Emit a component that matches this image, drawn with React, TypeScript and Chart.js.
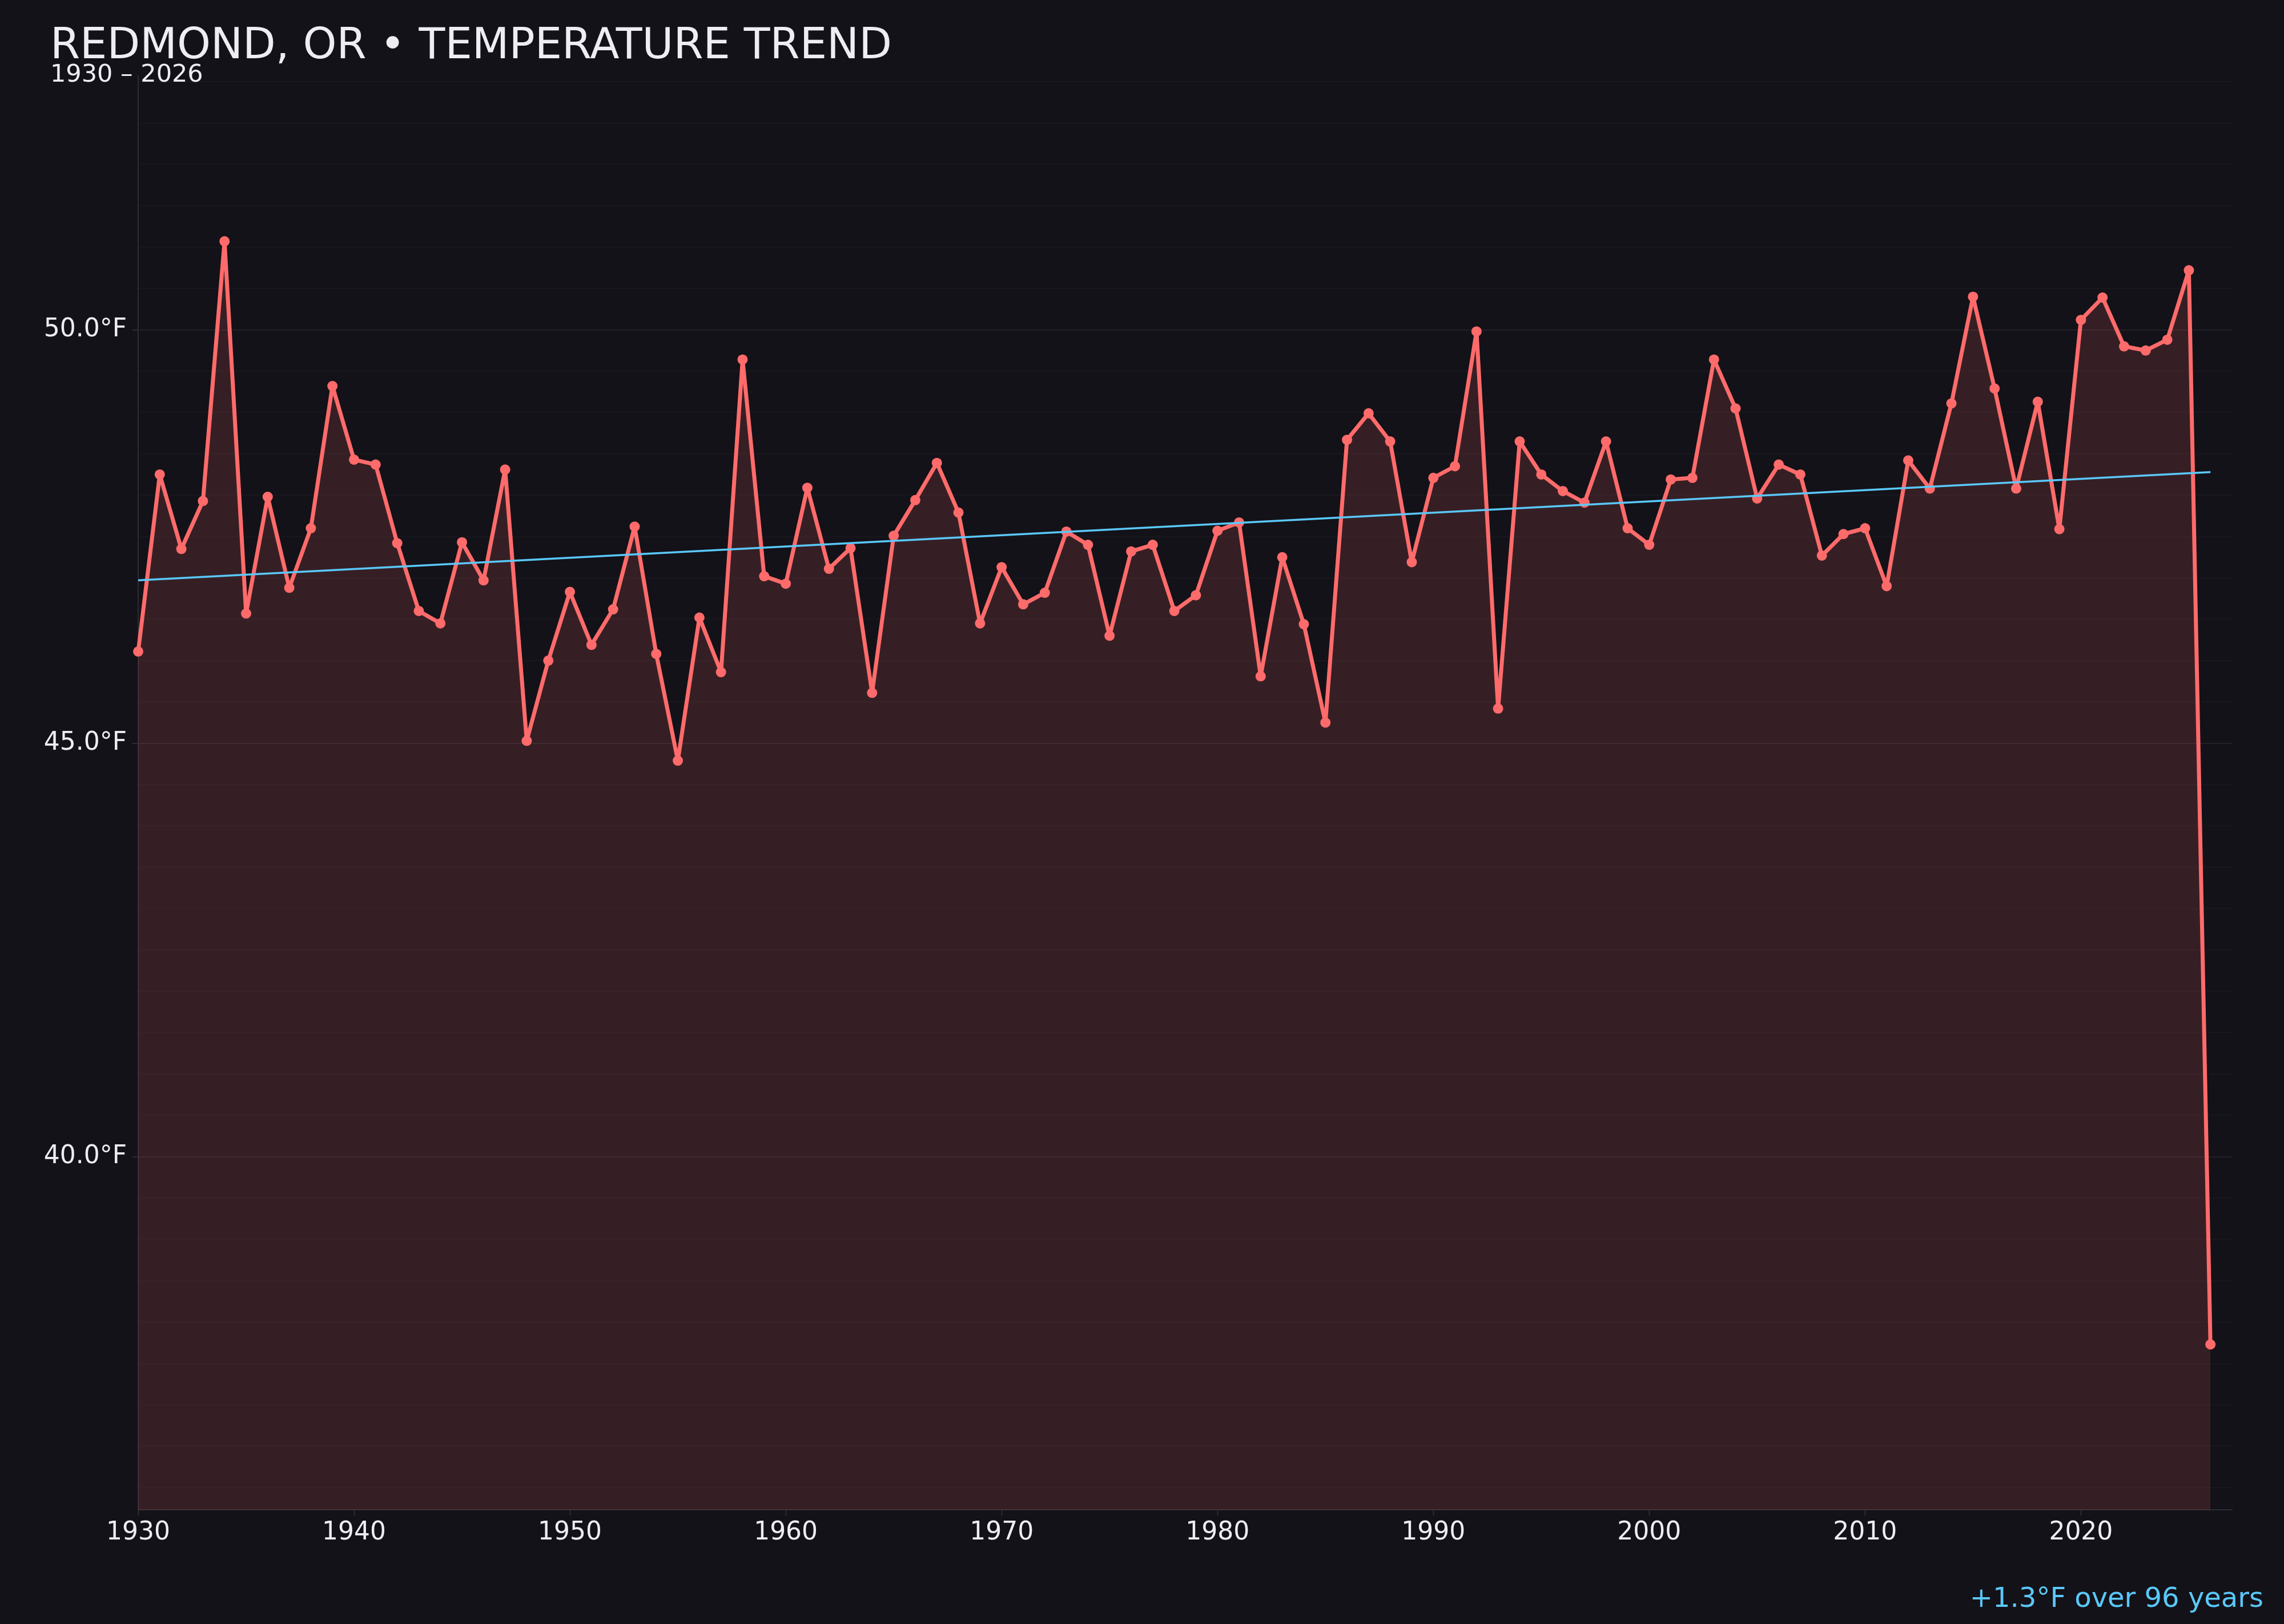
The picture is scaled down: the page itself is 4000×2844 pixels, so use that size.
import { useEffect, useRef } from 'react';
import Chart from 'chart.js/auto';

// Annual mean temperature, Redmond OR (°F)
const years = [
  1930, 1931, 1932, 1933, 1934, 1935, 1936, 1937, 1938, 1939,
  1940, 1941, 1942, 1943, 1944, 1945, 1946, 1947, 1948, 1949,
  1950, 1951, 1952, 1953, 1954, 1955, 1956, 1957, 1958, 1959,
  1960, 1961, 1962, 1963, 1964, 1965, 1966, 1967, 1968, 1969,
  1970, 1971, 1972, 1973, 1974, 1975, 1976, 1977, 1978, 1979,
  1980, 1981, 1982, 1983, 1984, 1985, 1986, 1987, 1988, 1989,
  1990, 1991, 1992, 1993, 1994, 1995, 1996, 1997, 1998, 1999,
  2000, 2001, 2002, 2003, 2004, 2005, 2006, 2007, 2008, 2009,
  2010, 2011, 2012, 2013, 2014, 2015, 2016, 2017, 2018, 2019,
  2020, 2021, 2022, 2023, 2024, 2025, 2026
];

const temps = [
  46.11, 48.25, 47.35, 47.93, 51.07, 46.57, 47.98, 46.88, 47.60, 49.32,
  48.43, 48.37, 47.42, 46.60, 46.45, 47.43, 46.97, 48.31, 45.03, 46.00,
  46.83, 46.19, 46.62, 47.62, 46.08, 44.79, 46.52, 45.86, 49.64, 47.02,
  46.93, 48.09, 47.11, 47.36, 45.61, 47.51, 47.94, 48.39, 47.79, 46.45,
  47.13, 46.68, 46.82, 47.56, 47.40, 46.30, 47.32, 47.40, 46.60, 46.79,
  47.57, 47.67, 45.81, 47.25, 46.44, 45.25, 48.67, 48.99, 48.65, 47.19,
  48.21, 48.35, 49.98, 45.42, 48.65, 48.25, 48.05, 47.91, 48.65, 47.60,
  47.40, 48.19, 48.21, 49.64, 49.05, 47.96, 48.37, 48.25, 47.27, 47.53,
  47.60, 46.90, 48.42, 48.08, 49.11, 50.40, 49.29, 48.08, 49.13, 47.59,
  50.12, 50.39, 49.80, 49.75, 49.88, 50.72, 37.73
];

// linear trend end points
const trendYears = [1930, 2026];
const trendTemps = [46.97, 48.28];

const xTickYears = [1930, 1940, 1950, 1960, 1970, 1980, 1990, 2000, 2010, 2020];
const yLabelTemps = [40, 45, 50];

const TITLE = 'REDMOND, OR • TEMPERATURE TREND';
const SUBTITLE = '1930 – 2026';
const TREND_NOTE = '+1.3°F over 96 years';

const BG = '#131218';
const TEXT = '#eeedf2';
const LINE = '#ff6b6b';
const FILL = 'rgba(255, 107, 107, 0.15)';
const TREND = '#5ac8fa';
const AXIS = '#2d2c35';
const GRID_MAJOR = 'rgba(255, 255, 255, 0.065)';
const GRID_MINOR = 'rgba(255, 255, 255, 0.022)';
const FONT = '"DejaVu Sans", sans-serif';

const backgroundPlugin = {
  id: 'bgFill',
  beforeDraw(chart: any) {
    const { ctx, width, height } = chart;
    ctx.save();
    ctx.fillStyle = BG;
    ctx.fillRect(0, 0, width, height);
    ctx.restore();
  }
};

const textPlugin = {
  id: 'headerText',
  afterDraw(chart: any) {
    const { ctx } = chart;
    ctx.save();
    ctx.textBaseline = 'alphabetic';
    ctx.textAlign = 'left';
    ctx.fillStyle = TEXT;
    ctx.font = `75px ${FONT}`;
    ctx.fillText(TITLE, 88, 102);
    ctx.font = `43px ${FONT}`;
    ctx.fillText(SUBTITLE, 88, 143);
    ctx.textAlign = 'right';
    ctx.fillStyle = TREND;
    ctx.font = `48px ${FONT}`;
    ctx.fillText(TREND_NOTE, 3964, 2814);
    ctx.restore();
  }
};

export default function App() {
  const chartRef = useRef<HTMLCanvasElement>(null);
  const chartInstance = useRef<Chart | null>(null);

  useEffect(() => {
    document.body.style.margin = '0';
    document.body.style.background = BG;
    if (!chartRef.current) return;

    if (chartInstance.current) {
      chartInstance.current.destroy();
    }

    const ctx = chartRef.current.getContext('2d');
    if (!ctx) return;

    const yMin = Math.min(...temps) - 2;
    const yMax = Math.max(...temps) + 2;

    chartInstance.current = new Chart(ctx, {
      type: 'line',
      data: {
        datasets: [
          {
            label: 'Trend',
            data: trendYears.map((yr, i) => ({ x: yr, y: trendTemps[i] })),
            borderColor: TREND,
            borderWidth: 3.5,
            pointRadius: 0,
            fill: false,
            order: 0
          },
          {
            label: 'Annual mean',
            data: years.map((yr, i) => ({ x: yr, y: temps[i] })),
            borderColor: LINE,
            backgroundColor: FILL,
            borderWidth: 7,
            borderJoinStyle: 'round',
            pointRadius: 9,
            pointBorderWidth: 0,
            pointBackgroundColor: LINE,
            fill: 'start',
            tension: 0,
            clip: 14,
            order: 1
          }
        ]
      },
      options: {
        responsive: false,
        devicePixelRatio: 1,
        animation: false,
        layout: {
          padding: { top: 133, right: 91, bottom: 0, left: 0 }
        },
        plugins: {
          legend: { display: false },
          title: { display: false },
          tooltip: { enabled: false }
        },
        scales: {
          x: {
            type: 'linear',
            min: 1930,
            max: 2027,
            afterBuildTicks: (scale: any) => {
              scale.ticks = xTickYears.map(v => ({ value: v }));
            },
            afterFit: (scale: any) => {
              scale.height = 200;
            },
            ticks: {
              color: TEXT,
              font: { family: FONT, size: 44 },
              padding: 4,
              maxRotation: 0,
              autoSkip: false,
              callback: (v: any) => String(v)
            },
            grid: {
              drawOnChartArea: false,
              tickLength: 10,
              tickColor: AXIS,
              tickWidth: 2
            },
            border: { color: AXIS, width: 2 }
          },
          y: {
            type: 'linear',
            min: yMin,
            max: yMax,
            afterBuildTicks: (scale: any) => {
              const ticks = [];
              for (let v = Math.ceil(scale.min * 2) / 2; v <= scale.max; v = Math.round((v + 0.5) * 2) / 2) {
                ticks.push({ value: v });
              }
              scale.ticks = ticks;
            },
            afterFit: (scale: any) => {
              scale.width = 242;
            },
            ticks: {
              color: TEXT,
              font: { family: FONT, size: 44 },
              padding: 10,
              autoSkip: false,
              callback: (v: any) => (yLabelTemps.includes(Number(v)) ? `${Number(v).toFixed(1)}°F` : '')
            },
            grid: {
              lineWidth: 2,
              tickLength: 10,
              tickWidth: 2,
              color: (c: any) => (c.tick && yLabelTemps.includes(c.tick.value) ? GRID_MAJOR : GRID_MINOR),
              tickColor: (c: any) => (c.tick && yLabelTemps.includes(c.tick.value) ? AXIS : 'rgba(0,0,0,0)')
            },
            border: { color: AXIS, width: 2 }
          }
        }
      },
      plugins: [backgroundPlugin, textPlugin]
    });

    return () => {
      if (chartInstance.current) {
        chartInstance.current.destroy();
        chartInstance.current = null;
      }
    };
  }, []);

  return (
    <div style={{ position: 'absolute', left: 0, top: 0, width: 4000, height: 2844, background: BG }}>
      <canvas ref={chartRef} width={4000} height={2844} style={{ display: 'block' }} />
    </div>
  );
}
